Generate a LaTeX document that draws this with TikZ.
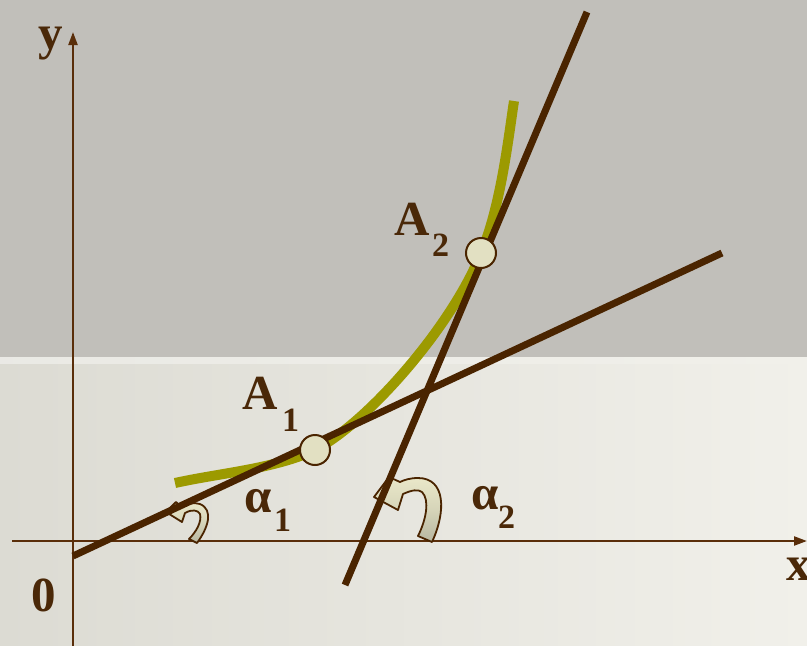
\documentclass[tikz,border=0pt]{standalone}
\usepackage{fontspec}
\setmainfont{Liberation Serif}
\usetikzlibrary{arrows.meta}
\definecolor{bgtop}{HTML}{C1BFBA}
\definecolor{bgleft}{HTML}{DCDBD3}
\definecolor{bgright}{HTML}{F1F0EA}
\definecolor{brn}{HTML}{4A2400}
\definecolor{axbrn}{HTML}{5A2E0A}
\definecolor{txt}{HTML}{4A2808}
\definecolor{olive}{HTML}{9C9A00}
\definecolor{ptfill}{HTML}{E2E0C2}
\definecolor{cream}{HTML}{EAE8C9}
\definecolor{band}{HTML}{B8B7A1}
\tikzset{
  axisline/.style={draw=axbrn, line width=2.2pt, -{Triangle[length=13pt,width=9pt]}},
  tangent/.style={draw=brn, line width=7pt},
  curveline/.style={draw=olive, line width=10pt},
  ptnode/.style={circle, draw=brn, line width=2pt, fill=ptfill, minimum size=30pt, inner sep=0pt},
  lab/.style={text=txt, font=\fontsize{49}{49}\selectfont\bfseries, inner sep=0pt, anchor=base west},
  sublab/.style={text=txt, font=\fontsize{34}{34}\selectfont\bfseries, inner sep=0pt, anchor=base west},
  rotarrow/.style={draw=brn, line width=1.8pt, line join=round, top color=cream, bottom color=band, middle color=cream!60!band}
}
\begin{document}
\begin{tikzpicture}[x=1pt, y=-1pt]
\useasboundingbox (0,0) rectangle (807,646);
% background
\fill[bgtop] (0,0) rectangle (807,357);
\shade[left color=bgleft, right color=bgright] (0,357) rectangle (807,646);
\shade[left color=bgleft!60!white, right color=bgright] (0,357) rectangle (807,363);
% axes
\coordinate (xs) at (12,541);
\coordinate (xe) at (807,541);
\coordinate (ys) at (73,646);
\coordinate (ye) at (73,32);
\draw[axisline] (xs) -- (xe);
\draw[axisline] (ys) -- (ye);
% rotation arrows
\path[rotarrow] (197,543) .. controls (208,528) and (214,510) .. (200,504)
  .. controls (194,502) and (186,504) .. (180,506)
  -- (176,502) -- (166,512) -- (182,522) -- (185,513)
  .. controls (192,509) and (198,510) .. (200,514)
  .. controls (202,522) and (196,532) .. (189,539) -- cycle;
\path[rotarrow] (432,542) .. controls (446,512) and (446,478) .. (418,478)
  .. controls (410,478) and (404,480) .. (400,482)
  -- (389,477) -- (374,497) -- (398,510) -- (403,494)
  .. controls (412,490) and (418,489) .. (422,492)
  .. controls (430,500) and (426,520) .. (418,536) -- cycle;
% points (positions)
\coordinate (cs) at (175,483);
\coordinate (ce) at (514,101);
\coordinate (P1) at (315,450);
\coordinate (P2) at (481,253);
% curve
\draw[curveline] (cs) .. controls (220,473) and (274,469) .. (P1)
  .. controls (371.5,420) and (454.5,321.5) .. (P2)
  .. controls (500.5,207) and (508,141) .. (ce);
% tangent lines
\coordinate (t1s) at (73,556);
\coordinate (t1e) at (722,253);
\coordinate (t2s) at (345,585);
\coordinate (t2e) at (587,12);
\draw[tangent] (t1s) -- (t1e);
\draw[tangent] (t2s) -- (t2e);
% points
\node[ptnode] (A1) at (P1) {};
\node[ptnode] (A2) at (P2) {};
% labels
\node[lab] (ylab) at (38,49) {y};
\node[lab] (xlab) at (786,580) {x};
\node[lab] (zero) at (31,611) {0};
\node[lab] (lA1) at (242,409) {A};
\node[sublab] (lA1s) at (282,431) {1};
\node[lab] (lA2) at (394,235) {A};
\node[sublab] (lA2s) at (432,256) {2};
\node[lab] (la1) at (244,512) {α};
\node[sublab] (la1s) at (274,531) {1};
\node[lab] (la2) at (471,509) {α};
\node[sublab] (la2s) at (498,528) {2};
\end{tikzpicture}
\end{document}
